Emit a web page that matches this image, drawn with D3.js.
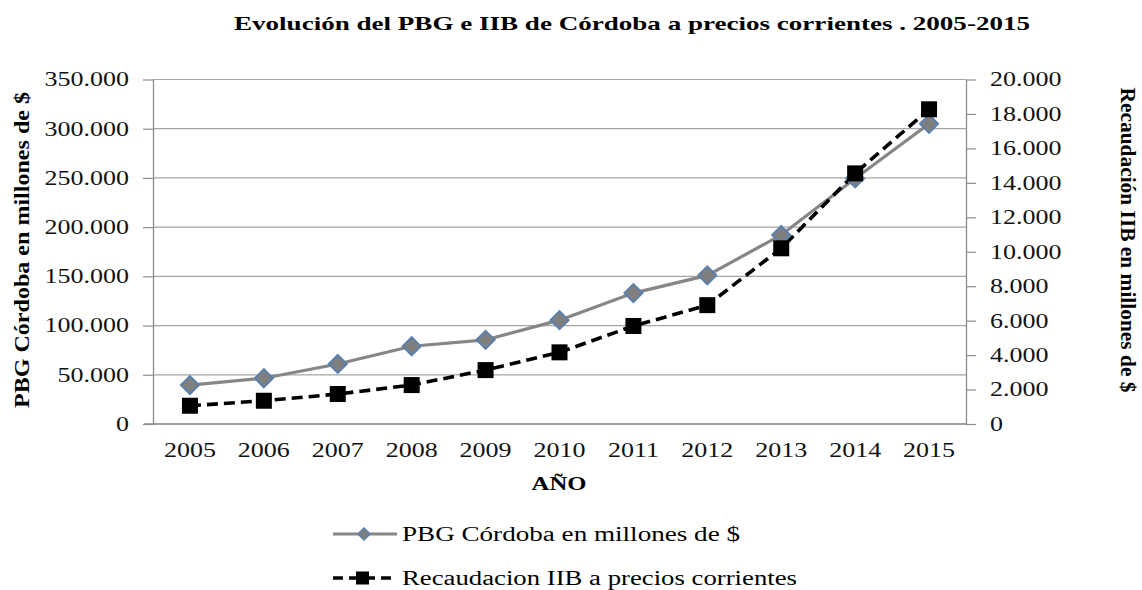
<!DOCTYPE html>
<html>
<head>
<meta charset="utf-8">
<script src="https://cdn.jsdelivr.net/npm/d3@7"></script>
<style>
	body{margin:0;background:#fff;}
	svg{display:block;font-family:"Liberation Serif","Times New Roman",serif;}
</style>
</head>
<body>
<svg id="chart"></svg>
<script>
// data
const years = ['2005','2006','2007','2008','2009','2010','2011','2012','2013','2014','2015']
const pbg = [39500, 46500, 61000, 79000, 85500, 105500, 133000, 151000, 192000, 249500, 305000]
const iib = [1060, 1350, 1740, 2260, 3130, 4160, 5690, 6900, 10200, 14550, 18270]
const leftTicks = [0, 50000, 100000, 150000, 200000, 250000, 300000, 350000]
const rightTicks = [0, 2000, 4000, 6000, 8000, 10000, 12000, 14000, 16000, 18000, 20000]

const seriesNames = ['PBG Córdoba en millones de $', 'Recaudacion IIB a precios corrientes']

let outer_width = 1142
let outer_height = 590

let margin = {top: 79.5, right: 176, bottom: 166, left: 153}
let width = outer_width - margin.left - margin.right
let height = outer_height - margin.top - margin.bottom

const sx = 1.3 // the picture is stretched sideways
const fmt = (n)=>n.toString().replace(/\B(?=(\d{3})+(?!\d))/g, '.')

const svg = d3.select('#chart')
	.attr('width', outer_width)
	.attr('height', outer_height)

const xScale = d3.scaleBand()
	.domain(years)
	.range([0, width])

const yLeft = d3.scaleLinear()
	.domain([0, 350000])
	.range([height, 0])

const yRight = d3.scaleLinear()
	.domain([0, 20000])
	.range([height, 0])

const chart = svg.append('g')
	.attr('transform', `translate(${margin.left},${margin.top})`)

// grid lines
chart.append('g')
	.selectAll('line')
	.data(leftTicks)
	.enter()
	.append('line')
	.attr('x1', 0)
	.attr('x2', width)
	.attr('y1', d => yLeft(d))
	.attr('y2', d => yLeft(d))
	.attr('stroke', '#a6a6a6')
	.attr('stroke-width', 1.2)

const stretch = (sel)=>{
	sel.each(function(){
		let t = d3.select(this)
		let x = +t.attr('x') || 0
		t.attr('x', x / sx).attr('transform', `scale(${sx},1)`)
	})
}

const axisLeft = chart.append('g')
	.call(d3.axisLeft(yLeft).tickValues(leftTicks).tickFormat(fmt).tickSize(10).tickPadding(14).tickSizeOuter(0))
axisLeft.selectAll('text').attr('font-size', 20).attr('fill', '#111').attr('font-family', 'Liberation Serif')
stretch(axisLeft.selectAll('text'))

const axisRight = chart.append('g')
	.attr('transform', `translate(${width},0)`)
	.call(d3.axisRight(yRight).tickValues(rightTicks).tickFormat(fmt).tickSize(10).tickPadding(14).tickSizeOuter(0))
axisRight.selectAll('text').attr('font-size', 20).attr('fill', '#111').attr('font-family', 'Liberation Serif')
stretch(axisRight.selectAll('text'))

const axisX = chart.append('g')
	.attr('transform', `translate(0,${height})`)
	.call(d3.axisBottom(xScale).tickSize(0).tickPadding(19).tickSizeOuter(0))
axisX.selectAll('text').attr('font-size', 20).attr('fill', '#111').attr('font-family', 'Liberation Serif')
axisX.selectAll('text').each(function(d){
	d3.select(this).attr('transform', `translate(${xScale(d) + xScale.bandwidth() / 2},0) scale(${sx},1)`)
})
axisX.selectAll('.tick').attr('transform', null)

svg.selectAll('.domain').attr('stroke', '#8c8c8c').attr('stroke-width', 1.3)
svg.selectAll('.tick line').attr('stroke', '#8c8c8c').attr('stroke-width', 1.2)
// bottom axis line pokes out to the left like the tick marks
axisX.select('.domain').attr('d', `M-9,0H${width}`)

const cx = d => xScale(d) + xScale.bandwidth() / 2

// PBG line
const linePbg = d3.line()
	.x((d, i) => cx(years[i]))
	.y(d => yLeft(d))

chart.append('path')
	.datum(pbg)
	.attr('d', linePbg)
	.attr('fill', 'none')
	.attr('stroke', '#868686')
	.attr('stroke-width', 3.2)

// IIB line
const lineIib = d3.line()
	.x((d, i) => cx(years[i]))
	.y(d => yRight(d))

chart.append('path')
	.datum(iib)
	.attr('d', lineIib)
	.attr('fill', 'none')
	.attr('stroke', '#000')
	.attr('stroke-width', 3.6)
	.attr('stroke-dasharray', '11,6')

const diamondPath = (s)=>`M0,${-s}L${s},0L0,${s}L${-s},0Z`

chart.append('g')
	.selectAll('path')
	.data(pbg)
	.enter()
	.append('path')
	.attr('d', diamondPath(9))
	.attr('transform', (d, i) => `translate(${cx(years[i])},${yLeft(d)})`)
	.attr('fill', '#7f7f7f')
	.attr('stroke', '#5b80ad')
	.attr('stroke-width', 2)

chart.append('g')
	.selectAll('rect')
	.data(iib)
	.enter()
	.append('rect')
	.attr('x', (d, i) => cx(years[i]) - 8)
	.attr('y', d => yRight(d) - 8)
	.attr('width', 16)
	.attr('height', 16)
	.attr('fill', '#000')

// title and axis titles
svg.append('text')
	.text('Evolución  del PBG e IIB de Córdoba a precios corrientes . 2005-2015')
	.attr('x', 234)
	.attr('y', 30)
	.attr('font-size', 19)
	.attr('font-weight', 'bold')
	.attr('textLength', 796)
	.attr('lengthAdjust', 'spacingAndGlyphs')

svg.append('text')
	.text('PBG Córdoba en millones de $')
	.attr('transform', `translate(29,250) rotate(-90)`)
	.attr('text-anchor', 'middle')
	.attr('font-size', 21)
	.attr('font-weight', 'bold')
	.attr('textLength', 316)
	.attr('lengthAdjust', 'spacingAndGlyphs')

svg.append('text')
	.text('Recaudación IIB en millones de $')
	.attr('transform', `translate(1121,240) rotate(90)`)
	.attr('text-anchor', 'middle')
	.attr('font-size', 20)
	.attr('font-weight', 'bold')
	.attr('textLength', 305)
	.attr('lengthAdjust', 'spacingAndGlyphs')

svg.append('text')
	.text('AÑO')
	.attr('transform', `translate(559,490) scale(${sx},1)`)
	.attr('text-anchor', 'middle')
	.attr('font-size', 19)
	.attr('font-weight', 'bold')

// legend
const legend = svg.append('g')

const lg1 = legend.append('g').attr('transform', 'translate(333,534)')
lg1.append('line').attr('x1', 0).attr('x2', 64).attr('stroke', '#868686').attr('stroke-width', 3.2)
lg1.append('path').attr('d', diamondPath(6)).attr('transform', 'translate(31,0)').attr('fill', '#7f7f7f').attr('stroke', '#5b80ad').attr('stroke-width', 1.5)
lg1.append('text').text(seriesNames[0])
	.attr('x', 69).attr('y', 7).attr('font-size', 20)
	.attr('textLength', 338).attr('lengthAdjust', 'spacingAndGlyphs')

const lg2 = legend.append('g').attr('transform', 'translate(333,578)')
lg2.append('line').attr('x1', 0).attr('x2', 64).attr('stroke', '#000').attr('stroke-width', 3.6).attr('stroke-dasharray', '10,6')
lg2.append('rect').attr('x', 23).attr('y', -6.5).attr('width', 13).attr('height', 13).attr('fill', '#000')
lg2.append('text').text(seriesNames[1])
	.attr('x', 69).attr('y', 7).attr('font-size', 20)
	.attr('textLength', 395).attr('lengthAdjust', 'spacingAndGlyphs')
</script>
</body>
</html>
